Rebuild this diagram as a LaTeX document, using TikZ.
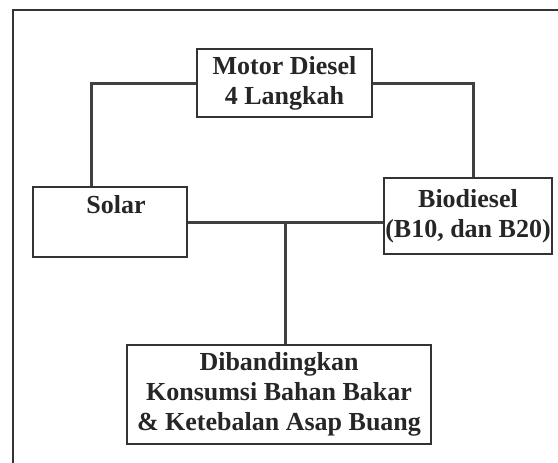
\documentclass[tikz,border=0pt]{standalone}
\usepackage{fontspec}
\setmainfont{Liberation Serif}
\usetikzlibrary{calc}
\begin{document}
\begin{tikzpicture}[x=1pt,y=-1pt,
  box/.style={draw=black!80, line width=1.3pt, rectangle, inner sep=0pt},
  txt/.style={font=\bfseries\fontsize{26}{30}\selectfont, text=black!85, align=center, inner sep=0pt},
  conn/.style={draw=black!75, line width=3pt},
  frame/.style={draw=black!80, line width=1.4pt}]
\useasboundingbox (0,0) rectangle (558,463);
% outer frame (partial)
\draw[frame] (558,10) -- (13,10) -- (13,463);
% boxes
\node[box, minimum width=175pt, minimum height=68pt] (motor) at (284.5,83) {};
\node[txt] (motortext) at (motor.center) {Motor Diesel\\4 Langkah};
\node[box, minimum width=154pt, minimum height=70pt] (solar) at (110,222) {};
\node[txt, anchor=north] (solartext) at ($(solar.north)+(6,9)$) {Solar};
\node[box, minimum width=168pt, minimum height=76pt] (bio) at (468,216) {};
\node[txt] (biotext) at (bio.center) {Biodiesel\\(B10, dan B20)};
\node[box, minimum width=304pt, minimum height=99pt] (dib) at (279,394.5) {};
\node[txt] (dibtext) at (dib.center) {Dibandingkan\\Konsumsi Bahan Bakar\\\& Ketebalan Asap Buang};
% connectors
\coordinate (sl) at ($(solar.north west)!0.383!(solar.north east)$);
\coordinate (br) at ($(bio.north west)!0.53!(bio.north east)$);
\draw[conn] (motor.west) -| (sl);
\draw[conn] (motor.east) -| (br);
\coordinate (jn) at (285,222);
\draw[conn] (solar.east) -- (jn -| bio.west);
\draw[conn] (jn) -- (jn |- dib.north);
\end{tikzpicture}
\end{document}
